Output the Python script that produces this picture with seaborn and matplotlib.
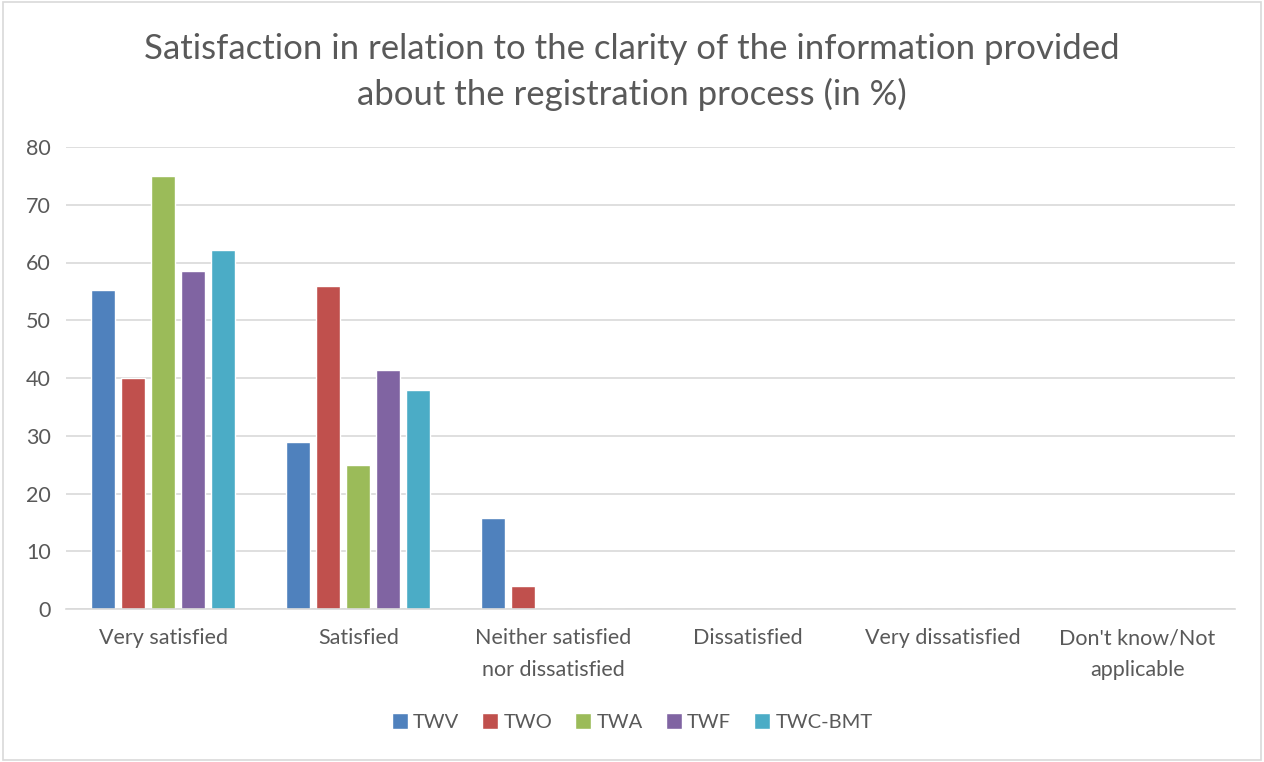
import pandas as pd
import numpy as np
import matplotlib.pyplot as plt
import seaborn as sns
from matplotlib.patches import Rectangle

# Datos
categorias = ["Very satisfied", "Satisfied", "Neither satisfied\nnor dissatisfied",
              "Dissatisfied", "Very dissatisfied", "Don't know/Not\napplicable"]
series = ["TWV", "TWO", "TWA", "TWF", "TWC-BMT"]
twv = [55.3, 28.9, 15.8, 0, 0, 0]
two = [40.0, 56.0, 4.0, 0, 0, 0]
twa = [75.0, 25.0, 0, 0, 0, 0]
twf = [58.6, 41.4, 0, 0, 0, 0]
twc_bmt = [62.1, 37.9, 0, 0, 0, 0]
colores = ["#4F81BD", "#C0504D", "#9BBB59", "#8064A2", "#4BACC6"]

valores = [twv, two, twa, twf, twc_bmt]
df = pd.DataFrame([
    {"categoria": c, "serie": s, "valor": v}
    for s, vals in zip(series, valores)
    for c, v in zip(categorias, vals)
])

sns.set_theme(style="white")
plt.rcParams['font.family'] = ['Lato', 'DejaVu Sans']
texto = "#595959"

fig = plt.figure(figsize=(12.64, 7.62), dpi=100)
ax = fig.add_axes([66 / 1264, 1 - 609 / 762, (1235 - 66) / 1264, (609 - 147) / 762])

sns.barplot(data=df, x="categoria", y="valor", hue="serie", order=categorias,
            hue_order=series, palette=colores, width=0.77, saturation=1,
            ax=ax, legend=True)

# estrechar cada barra para dejar hueco entre ellas (estilo Excel)
for p in ax.patches:
    w = p.get_width()
    if w > 0:
        x = p.get_x()
        nw = w * 0.8
        p.set_x(x + (w - nw) / 2)
        p.set_width(nw)

ax.set_ylim(0, 80)
ax.set_yticks(np.arange(0, 81, 10))
ax.set_xlim(-0.5, len(categorias) - 0.5)
ax.yaxis.grid(True, color="#D9D9D9", linewidth=1.2)
ax.set_axisbelow(True)
for s in ["top", "right", "left"]:
    ax.spines[s].set_visible(False)
ax.spines["bottom"].set_color("#D9D9D9")
ax.spines["bottom"].set_linewidth(1.2)
ax.tick_params(axis="both", length=0, labelsize=15.5, colors=texto)
ax.tick_params(axis="x", pad=14)
ax.tick_params(axis="y", pad=11)
for lbl in ax.get_xticklabels():
    lbl.set_linespacing(1.7)
ax.set_xlabel("")
ax.set_ylabel("")

fig.text(0.5, 1 - 72 / 762,
         "Satisfaction in relation to the clarity of the information provided\n"
         "about the registration process (in %)",
         fontsize=25, color=texto, ha="center", va="center", linespacing=1.45)

handles, labels = ax.get_legend_handles_labels()
ax.get_legend().remove()
fig.legend(handles, labels, loc="center", bbox_to_anchor=(0.5, 1 - 722 / 762), ncol=5,
           frameon=False, fontsize=14.5, handlelength=0.8, handleheight=0.8,
           handletextpad=0.25, columnspacing=1.15, labelcolor=texto)

# borde del área del gráfico
fig.patches.append(Rectangle((0.002, 0.002), 0.996, 0.996, transform=fig.transFigure,
                             fill=False, edgecolor="#D9D9D9", linewidth=1.2))

fig.savefig("out.png", dpi=100)
